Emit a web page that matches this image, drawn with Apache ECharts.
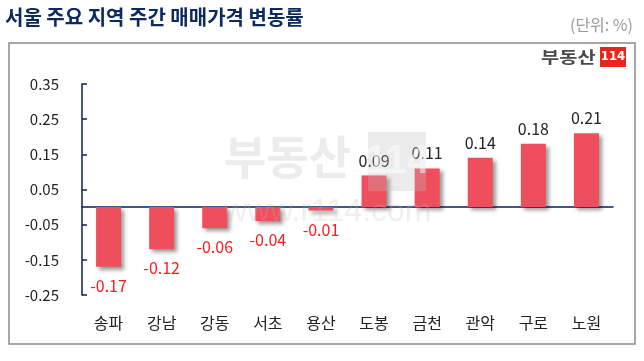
<!DOCTYPE html>
<html><head><meta charset="utf-8">
<script src="https://cdn.jsdelivr.net/npm/echarts@6/dist/echarts.min.js"></script>
<style>html,body{margin:0;padding:0;background:#fff}#c{width:644px;height:361px}</style>
</head><body><div id="c"></div>
<script>
var categories = ['송파','강남','강동','서초','용산','도봉','금천','관악','구로','노원'];
var values = [-0.17,-0.12,-0.06,-0.04,-0.01,0.09,0.11,0.14,0.18,0.21];
var yMin = -0.25, yMax = 0.35, yStep = 0.1;
var titleText = '서울 주요 지역 주간 매매가격 변동률';
var unitText = '(단위: %)';

var FONT = '"Noto Sans CJK KR", "Noto Sans", sans-serif';
var chart = echarts.init(document.getElementById('c'), null, {renderer:'canvas'});
var barData = values.map(function(v){
  var neg = v < 0;
  return {value: v, label: {position: neg ? 'bottom' : 'top', distance: neg ? 11 : 7, color: neg ? '#ff1a1a' : '#222'}};
});
chart.setOption({
  animation: false,
  backgroundColor: '#fff',
  grid: {left: 82, right: 31, top: 84, bottom: 66, containLabel: false},
  xAxis: [{
    type: 'category', data: categories,
    axisLine: {onZero: true, lineStyle: {color: '#0d1f5c', width: 1.5}},
    axisTick: {inside: true, length: 5, lineStyle: {color: '#0d1f5c', width: 1.5}},
    axisLabel: {show: false}
  },{
    type: 'category', data: categories, position: 'bottom',
    axisLine: {show: false, onZero: false}, axisTick: {show: false},
    axisLabel: {fontSize: 16, color: '#222', margin: 20, fontFamily: FONT}
  }],
  yAxis: {
    type: 'value', min: yMin, max: yMax, interval: yStep,
    splitLine: {show: false},
    axisLine: {show: true, lineStyle: {color: '#0d1f5c', width: 1.5}},
    axisTick: {show: true, inside: true, length: 5, lineStyle: {color: '#0d1f5c', width: 1.5}},
    axisLabel: {fontSize: 15, color: '#222', margin: 23, fontFamily: FONT,
      formatter: function(v){ return (Math.round(v*100)/100).toFixed(2); }}
  },
  series: [{
    type: 'bar', xAxisIndex: 0, data: barData, barWidth: 25,
    itemStyle: {color: '#ef4f5d', shadowColor: 'rgba(0,0,0,0.4)', shadowBlur: 4, shadowOffsetX: 3, shadowOffsetY: 3},
    label: {show: true, fontSize: 16, fontFamily: FONT,
      formatter: function(p){ return p.value.toFixed(2); }}
  }],
  graphic: [
    {type: 'rect', left: 6.5, top: 40.5, shape: {width: 626, height: 301}, style: {fill: 'none', stroke: '#8a8a8a', lineWidth: 1.5}, z: 0},
    {type: 'text', left: 5, top: 7, style: {text: titleText, font: 'bold 20px ' + FONT, fill: '#0b2a5e', textShadowColor: '#5b9bd5', textShadowOffsetX: 1, textShadowOffsetY: 1, textShadowBlur: 0}},
    {type: 'text', right: 11, top: 17, style: {text: unitText, font: '16px ' + FONT, fill: '#999'}},
    {type: 'text', x: 541, y: 49, scaleX: 1.1, scaleY: 0.9, style: {text: '부동산', font: 'bold 18px ' + FONT, fill: '#4a4a4a'}},
    {type: 'rect', left: 600, top: 47, shape: {width: 26, height: 20}, style: {fill: '#e8261c'}},
    {type: 'text', x: 613, y: 57, style: {text: '114', align: 'center', verticalAlign: 'middle', font: 'bold 13px "Liberation Sans Narrow", "DejaVu Sans Condensed", sans-serif', fill: '#fff'}},
    {type: 'text', left: 224, top: 134, z: 50, style: {text: '부동산', font: 'bold 46px ' + FONT, fill: 'rgba(180,180,180,0.25)'}},
    {type: 'rect', left: 368, top: 132, z: 50, shape: {width: 58, height: 59}, style: {fill: 'rgba(190,190,190,0.3)'}},
    {type: 'text', x: 397, y: 162, z: 50, style: {text: '114', align: 'center', verticalAlign: 'middle', font: 'bold 40px "Liberation Sans Narrow", sans-serif', fill: 'rgba(255,255,255,0.5)'}},
    {type: 'text', left: 224, top: 196, z: 50, style: {text: 'www.r114.com', font: '32px "Liberation Sans", sans-serif', fill: 'rgba(180,180,180,0.22)'}}
  ]
});
</script></body></html>
